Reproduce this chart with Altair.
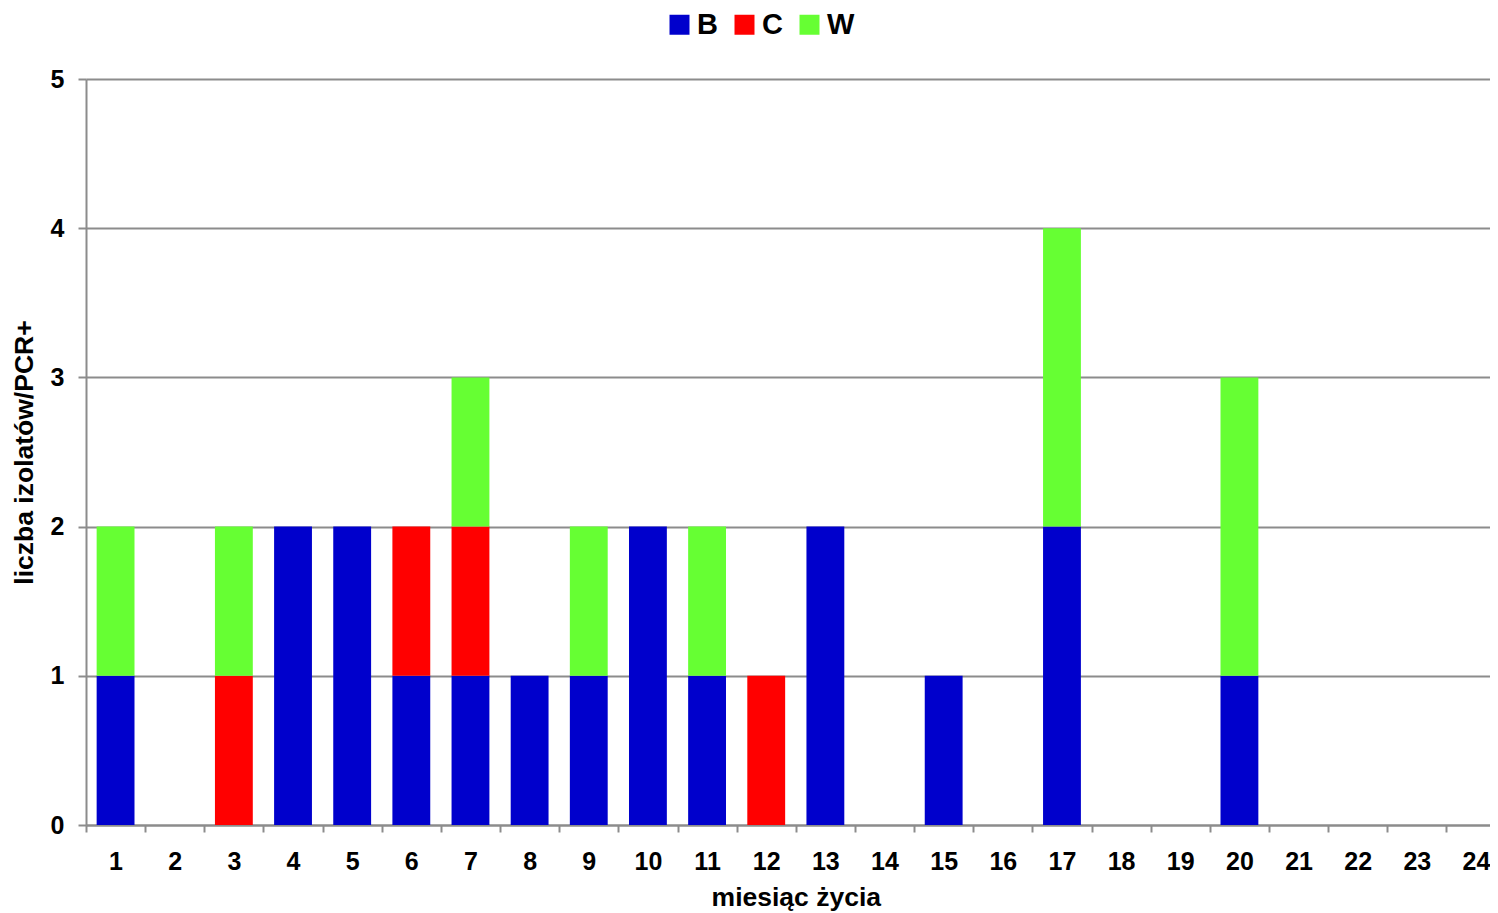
import altair as alt
import pandas as pd

months = ["1", "2", "3", "4", "5", "6", "7", "8", "9", "10", "11", "12",
          "13", "14", "15", "16", "17", "18", "19", "20", "21", "22", "23", "24"]
series_names = ["B", "C", "W"]
B = [1, 0, 0, 2, 2, 1, 1, 1, 1, 2, 1, 0, 2, 0, 1, 0, 2, 0, 0, 1, 0, 0, 0, 0]
C = [0, 0, 1, 0, 0, 1, 1, 0, 0, 0, 0, 1, 0, 0, 0, 0, 0, 0, 0, 0, 0, 0, 0, 0]
W = [1, 0, 1, 0, 0, 0, 1, 0, 1, 0, 1, 0, 0, 0, 0, 0, 2, 0, 0, 2, 0, 0, 0, 0]
colors = ["#0000CC", "#FF0000", "#66FF33"]

rows = []
for si, (name, vals) in enumerate(zip(series_names, [B, C, W])):
    for m, v in zip(months, vals):
        if v > 0:
            rows.append({"miesiac": m, "seria": name, "wartosc": v, "kolejnosc": si})
df = pd.DataFrame(rows)

FONT = "Liberation Sans"

chart = alt.Chart(df).mark_bar(strokeWidth=0, width=alt.RelativeBandSize(0.64)).encode(
    x=alt.X("miesiac:N",
            scale=alt.Scale(domain=months, paddingInner=0, paddingOuter=0),
            axis=alt.Axis(title="miesiąc życia", labelAngle=0, tickBand="extent", grid=False,
                          tickSize=7, tickWidth=2, tickColor="#8c8c8c",
                          domainColor="#8c8c8c", domainWidth=2,
                          labelFont=FONT, labelFontSize=25, labelFontWeight="bold", labelColor="#000000",
                          labelPadding=17,
                          titleFont=FONT, titleFontSize=26.5, titleFontWeight="bold", titleColor="#000000",
                          titlePadding=10)),
    y=alt.Y("wartosc:Q", stack="zero",
            scale=alt.Scale(domain=[0, 5], nice=False),
            axis=alt.Axis(title="liczba izolatów/PCR+", values=[0, 1, 2, 3, 4, 5], format="d",
                          grid=True, gridColor="#8c8c8c", gridWidth=2,
                          tickSize=8, tickWidth=2, tickColor="#8c8c8c",
                          domainColor="#8c8c8c", domainWidth=2,
                          labelFont=FONT, labelFontSize=25, labelFontWeight="bold", labelColor="#000000",
                          labelPadding=14,
                          titleFont=FONT, titleFontSize=26.5, titleFontWeight="bold", titleColor="#000000",
                          titlePadding=12)),
    color=alt.Color("seria:N",
                    scale=alt.Scale(domain=series_names, range=colors),
                    legend=alt.Legend(title=None, orient="none", legendX=579, legendY=-69,
                                      direction="horizontal", symbolType="square",
                                      symbolSize=400, symbolStrokeWidth=0,
                                      labelFont=FONT, labelFontSize=29, labelFontWeight="bold",
                                      labelColor="#000000", labelOffset=3, columnPadding=12)),
    order=alt.Order("kolejnosc:Q", sort="ascending"),
).properties(
    width=1419.6,
    height=746,
    autosize=alt.AutoSizeParams(type="none"),
    padding={"left": 78, "top": 71, "right": -15.6, "bottom": 87},
).configure_view(stroke=None)

chart.save("out.html", embed_options={"renderer": "svg", "actions": False})
